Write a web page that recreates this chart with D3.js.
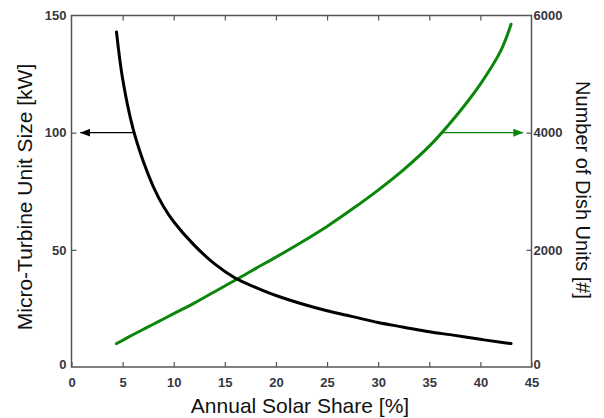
<!DOCTYPE html>
<html>
<head>
<meta charset="utf-8">
<script src="https://cdn.jsdelivr.net/npm/d3@7"></script>
<style>
  body { margin: 0; background: #fff; }
  svg { display: block; }
</style>
</head>
<body>
<div id="chart"></div>
<script>
// Data
const solarShare = [4.4, 5, 6, 7, 8, 9, 10, 12, 14, 16, 18, 20, 22.5, 25, 27.5, 30, 32.5, 35, 37.5, 40, 42, 43];
const turbineSize = [143, 123, 102, 88, 77, 68.5, 62, 52, 44, 38, 34, 30.5, 27, 24, 21.5, 19, 17, 15, 13.5, 11.8, 10.6, 10];
const dishUnits = [400, 455, 550, 640, 730, 820, 910, 1090, 1285, 1480, 1680, 1875, 2130, 2400, 2700, 3020, 3370, 3770, 4260, 4830, 5400, 5850];

const xTicks = [0, 5, 10, 15, 20, 25, 30, 35, 40, 45];
const yLeftTicks = [0, 50, 100, 150];
const yRightTicks = [0, 2000, 4000, 6000];

const xTitle = "Annual Solar Share [%]";
const yLeftTitle = "Micro-Turbine Unit Size [kW]";
const yRightTitle = "Number of Dish Units [#]";

const W = 604, H = 418;
const m = { left: 71.5, right: 604 - 531.5, top: 15.5, bottom: 418 - 367 };

const svg = d3.select("#chart").append("svg").attr("width", W).attr("height", H);

const x = d3.scaleLinear().domain([0, 45]).range([m.left, W - m.right]);
const yL = d3.scaleLinear().domain([0, 150]).range([H - m.bottom, m.top]);
const yR = d3.scaleLinear().domain([0, 6000]).range([H - m.bottom, m.top]);

const axisColor = "#555";
const labelColor = "#363640";
const tickFont = "bold 13px 'Liberation Sans', Arial, sans-serif";

// frame
svg.append("rect")
  .attr("x", x(0)).attr("y", m.top)
  .attr("width", x(45) - x(0)).attr("height", (H - m.bottom) - m.top)
  .attr("fill", "none").attr("stroke", axisColor).attr("stroke-width", 1.5);

function styleAxis(g) {
  g.select(".domain").remove();
  g.selectAll(".tick line").attr("stroke", axisColor).attr("stroke-width", 1.2);
  g.selectAll(".tick text").attr("fill", labelColor).style("font", tickFont);
}

// bottom axis (inward ticks)
svg.append("g").attr("transform", `translate(0,${H - m.bottom})`)
  .call(d3.axisBottom(x).tickValues(xTicks).tickSize(-5).tickPadding(11).tickFormat(d3.format("d")))
  .call(styleAxis);
// top axis ticks, no labels
svg.append("g").attr("transform", `translate(0,${m.top})`)
  .call(d3.axisTop(x).tickValues(xTicks.slice(1, -1)).tickSize(-5).tickFormat(""))
  .call(styleAxis);
// left axis
svg.append("g").attr("transform", `translate(${x(0)},0)`)
  .call(d3.axisLeft(yL).tickValues(yLeftTicks).tickSize(-5).tickPadding(5).tickFormat(d3.format("d")))
  .call(styleAxis)
  .call(g => g.selectAll(".tick").filter(d => d === 0 || d === 150).select("line").remove())
  .call(g => g.selectAll(".tick").filter(d => d === 0).select("text").attr("dy", "0.1em"));
// right axis
svg.append("g").attr("transform", `translate(${x(45)},0)`)
  .call(d3.axisRight(yR).tickValues(yRightTicks).tickSize(-5).tickPadding(2).tickFormat(d3.format("d")))
  .call(styleAxis)
  .call(g => g.selectAll(".tick").filter(d => d === 0 || d === 6000).select("line").remove())
  .call(g => g.selectAll(".tick").filter(d => d === 0).select("text").attr("dy", "0.1em"));

// series
const lineL = d3.line().x((d, i) => x(solarShare[i])).y(d => yL(d)).curve(d3.curveCatmullRom);
const lineR = d3.line().x((d, i) => x(solarShare[i])).y(d => yR(d)).curve(d3.curveCatmullRom);

svg.append("path").datum(dishUnits).attr("d", lineR)
  .attr("fill", "none").attr("stroke", "#0a870a").attr("stroke-width", 3).attr("stroke-linecap", "round");
svg.append("path").datum(turbineSize).attr("d", lineL)
  .attr("fill", "none").attr("stroke", "#000").attr("stroke-width", 3).attr("stroke-linecap", "round");

// arrows
const defs = svg.append("defs");
function marker(id, color) {
  defs.append("marker").attr("id", id)
    .attr("viewBox", "0 0 10 8").attr("refX", 10).attr("refY", 4)
    .attr("markerWidth", 10).attr("markerHeight", 8).attr("markerUnits", "userSpaceOnUse")
    .attr("orient", "auto")
    .append("path").attr("d", "M0,0L10,4L0,8Z").attr("fill", color);
}
marker("arrowBlack", "#000");
marker("arrowGreen", "#0a870a");

// black arrow: from curve at 100 kW to the left axis
svg.append("line")
  .attr("x1", x(6.1)).attr("y1", yL(100))
  .attr("x2", x(0.85)).attr("y2", yL(100))
  .attr("stroke", "#000").attr("stroke-width", 1.3)
  .attr("marker-end", "url(#arrowBlack)");
// green arrow: from curve at 4000 units to the right axis
svg.append("line")
  .attr("x1", x(36.06)).attr("y1", yR(4000))
  .attr("x2", x(44.2)).attr("y2", yR(4000))
  .attr("stroke", "#0a870a").attr("stroke-width", 1.3)
  .attr("marker-end", "url(#arrowGreen)");

// titles
const titleFont = "21px 'Liberation Sans', Arial, sans-serif";
svg.append("text").attr("x", 300).attr("y", 413).attr("text-anchor", "middle")
  .attr("fill", "#111").style("font", titleFont).text(xTitle);
svg.append("text").attr("transform", `translate(32,197) rotate(-90)`).attr("text-anchor", "middle")
  .attr("fill", "#111").style("font", titleFont).text(yLeftTitle);
svg.append("text").attr("transform", `translate(576,190) rotate(90)`).attr("text-anchor", "middle")
  .attr("fill", "#111").style("font", "20px 'Liberation Sans', Arial, sans-serif").text(yRightTitle);
</script>
</body>
</html>
